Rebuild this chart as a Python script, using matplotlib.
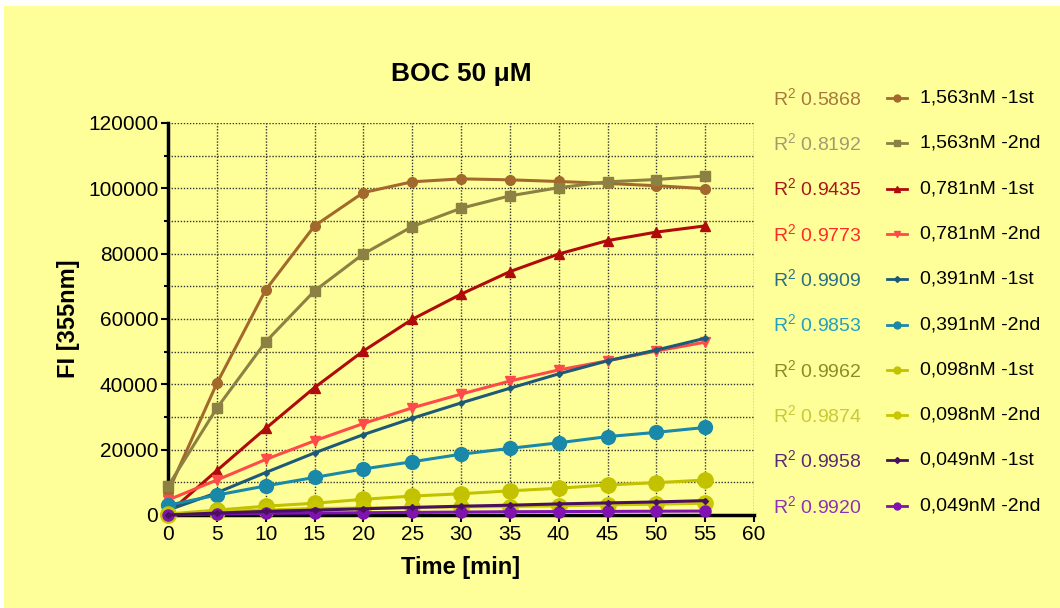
import matplotlib
matplotlib.use("Agg")
import matplotlib.pyplot as plt
from matplotlib.lines import Line2D
from matplotlib.patches import Rectangle
from matplotlib.ticker import MultipleLocator

plt.rcParams['font.family'] = ['Liberation Sans', 'DejaVu Sans']
plt.rcParams['mathtext.fontset'] = 'custom'
plt.rcParams['mathtext.rm'] = 'Liberation Sans'
plt.rcParams['mathtext.it'] = 'Liberation Sans'
plt.rcParams['mathtext.bf'] = 'Liberation Sans:bold'

time_min = [0, 5, 10, 15, 20, 25, 30, 35, 40, 45, 50, 55]

c1563_1st = [7000, 40300, 68900, 88500, 98700, 102000, 102900, 102600, 102100, 101500, 100800, 99900]
c1563_2nd = [8800, 32700, 53000, 68600, 79900, 88300, 93900, 97700, 100200, 102000, 102700, 103800]
c0781_1st = [500, 13600, 26500, 39000, 50200, 59900, 67600, 74500, 79900, 84000, 86600, 88500]
c0781_2nd = [4600, 10700, 17000, 22700, 28000, 32800, 37000, 41000, 44400, 47200, 50200, 52900]
c0391_1st = [1500, 6800, 13000, 19000, 24600, 29600, 34300, 38800, 43200, 47200, 50500, 54100]
c0391_2nd = [3000, 6100, 8900, 11500, 14100, 16300, 18600, 20400, 22100, 24000, 25300, 26800]
c0098_1st = [300, 1500, 2700, 3600, 4800, 5800, 6500, 7400, 8200, 9200, 9900, 10700]
c0098_2nd = [0, 1000, 1500, 2000, 2100, 2350, 2500, 2600, 2800, 3100, 3300, 3600]
c0049_1st = [0, 600, 1100, 1500, 1900, 2300, 2700, 3000, 3400, 3700, 4000, 4400]
c0049_2nd = [0, 300, 500, 600, 700, 800, 900, 1000, 1050, 1100, 1150, 1200]

series_labels = ['1,563nM -1st', '1,563nM -2nd', '0,781nM -1st', '0,781nM -2nd',
                 '0,391nM -1st', '0,391nM -2nd', '0,098nM -1st', '0,098nM -2nd',
                 '0,049nM -1st', '0,049nM -2nd']
r2_values = ['0.5868', '0.8192', '0.9435', '0.9773', '0.9909',
             '0.9853', '0.9962', '0.9874', '0.9958', '0.9920']

series_data = [c1563_1st, c1563_2nd, c0781_1st, c0781_2nd, c0391_1st,
               c0391_2nd, c0098_1st, c0098_2nd, c0049_1st, c0049_2nd]
line_colors = ['#A3682C', '#8C8042', '#B00A0A', '#FF4A4A', '#1C5A78',
               '#1A88A8', '#C2C200', '#C8C800', '#4A1060', '#8012B0']
r2_colors = ['#A8783E', '#A09C72', '#A81818', '#FF2A2A', '#2A6E84',
             '#22A0BE', '#8C8C24', '#C8C838', '#5A2A72', '#8C32B4']
markers = ['o', 's', '^', 'v', 'D', 'o', 'o', 'o', 'D', 'o']
msizes = [7, 7, 7, 7, 3, 10, 11, 11, 3, 8]
zorders = [3, 3, 3, 3, 4, 4, 5, 5, 6, 5]

W, H = 1060, 608
fig = plt.figure(figsize=(W / 100, H / 100), dpi=100, facecolor='white')
fig.patches.append(Rectangle((4 / W, 0), 1 - 4 / W, 1 - 6 / H, transform=fig.transFigure,
                             facecolor='#FFFF99', edgecolor='none', zorder=-10))

left, right, top, bottom = 168, 754, 123, 515
ax = fig.add_axes([left / W, 1 - bottom / H, (right - left) / W, (bottom - top) / H])
ax.set_facecolor('none')

for data, col, mk, ms, zo in zip(series_data, line_colors, markers, msizes, zorders):
    ax.plot(time_min, data, color=col, lw=2.2, marker=mk, markersize=ms,
            markerfacecolor=col, markeredgecolor=col, zorder=zo, clip_on=False)

ax.set_xlim(0, 60)
ax.set_ylim(0, 120000)
ax.xaxis.set_major_locator(MultipleLocator(5))
ax.yaxis.set_major_locator(MultipleLocator(20000))
ax.yaxis.set_minor_locator(MultipleLocator(10000))
ax.grid(True, which='both', color='#333333', linestyle=(0, (1, 1.2)), lw=1.0)
ax.set_axisbelow(True)
for s in ['top', 'right']:
    ax.spines[s].set_visible(False)
for s in ['left', 'bottom']:
    ax.spines[s].set_linewidth(2.5)
    ax.spines[s].set_color('black')
    ax.spines[s].set_zorder(2)
ax.tick_params(axis='both', which='major', direction='out', length=5, width=1.5,
               labelsize=15, colors='black', pad=2)
ax.tick_params(axis='y', which='minor', direction='out', length=3, width=1.5)
ax.tick_params(axis='x', which='minor', length=0)

ax.set_xlabel('Time [min]', fontsize=17, fontweight='bold', labelpad=9)
ax.set_ylabel('FI [355nm]', fontsize=17, fontweight='bold', labelpad=6)
ax.set_title('BOC 50 μM', fontsize=19, fontweight='bold', pad=30)

row_y0, row_dy = 98, 45.3
for i, (lab, r2, lc, rc, mk) in enumerate(zip(series_labels, r2_values, line_colors, r2_colors, markers)):
    y = 1 - (row_y0 + i * row_dy) / H
    fig.text(773 / W, y, r'R$^2$ ' + r2, color=rc, fontsize=14, va='center', ha='left')
    fig.add_artist(Line2D([887 / W, 897 / W, 907 / W], [y, y, y], transform=fig.transFigure,
                          color=lc, lw=2, marker=mk, markersize=5 if mk != 'D' else 3,
                          markevery=[1], markerfacecolor=lc, markeredgecolor=lc))
    fig.text(920 / W, y, lab, color='black', fontsize=14, va='center', ha='left')

fig.savefig('out.png', dpi=100, facecolor='white')
